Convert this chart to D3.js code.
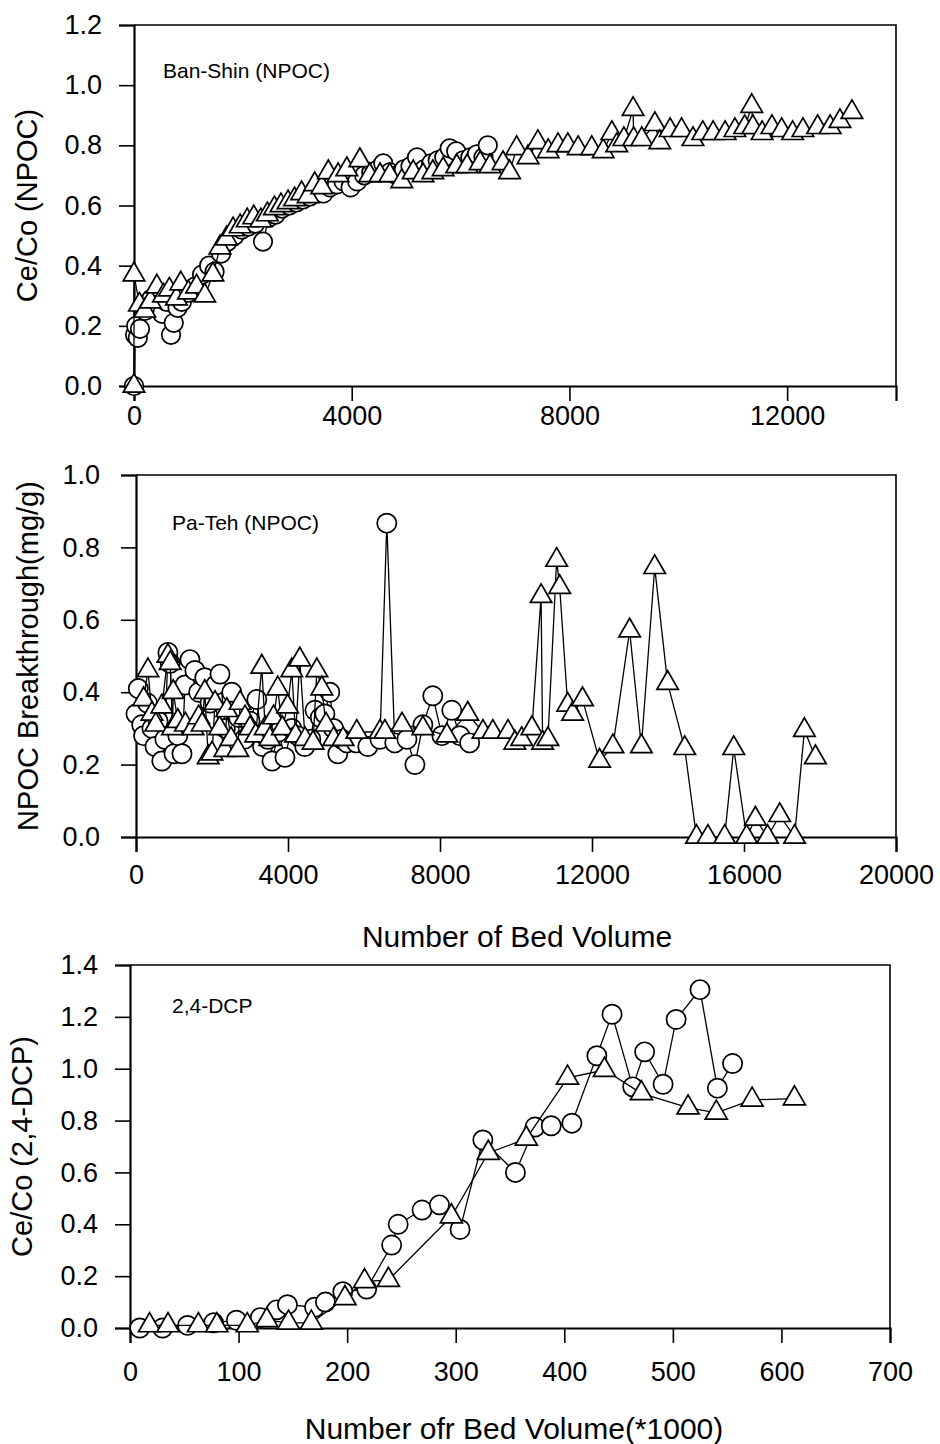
<!DOCTYPE html>
<html><head><meta charset="utf-8">
<script src="https://cdn.jsdelivr.net/npm/d3@7"></script>
<style>
body{margin:0;background:#fff}
svg{display:block}
text{font-family:"Liberation Sans",Arial,Helvetica,sans-serif;fill:#000}
</style>
</head><body>
<svg id="chart" width="940" height="1444"></svg>
<script>
// ---------------- DATA ----------------
// Panel 1: Ban-Shin (NPOC)
const banShinCircleX = [0,20,40,70,110,200,320,430,520,600,680,730,800,880,1000,1120,1250,1380,1480,1600,1720,1850,1980,2100,2230,2370,2480,2600,2720,2850,2980,3100,3230,3360,3480,3600,3730,3850,3980,4100,4230,4360,4480,4580,4700,4830,4960,5080,5200,5330,5460,5580,5700,5800,5920,6050,6180,6300,6420,6500];
const banShinCircleY = [0,0.17,0.20,0.16,0.19,0.25,0.29,0.27,0.24,0.28,0.17,0.21,0.26,0.28,0.31,0.33,0.37,0.40,0.38,0.44,0.48,0.50,0.52,0.53,0.54,0.48,0.56,0.57,0.59,0.60,0.61,0.62,0.63,0.65,0.64,0.66,0.67,0.68,0.66,0.68,0.70,0.71,0.72,0.74,0.71,0.70,0.72,0.73,0.76,0.72,0.74,0.75,0.76,0.79,0.78,0.75,0.76,0.77,0.76,0.80];
const banShinTriX = [0,0,100,200,300,420,540,650,780,860,1000,1150,1300,1450,1580,1700,1820,1950,2080,2200,2330,2450,2580,2700,2830,2950,3080,3200,3320,3450,3570,3750,3910,4150,4330,4520,4700,4920,5130,5310,5490,5680,5930,6120,6360,6540,6780,6900,7030,7240,7420,7610,7790,7970,8160,8410,8620,8780,8870,9000,9170,9180,9330,9570,9660,9850,10060,10270,10450,10640,10860,11040,11220,11350,11370,11540,11720,11900,12100,12290,12560,12790,12970,13190];
const banShinTriY = [0,0.37,0.27,0.25,0.28,0.33,0.30,0.32,0.29,0.34,0.31,0.33,0.30,0.37,0.46,0.49,0.52,0.53,0.55,0.56,0.55,0.57,0.59,0.60,0.61,0.62,0.64,0.63,0.67,0.66,0.71,0.70,0.72,0.75,0.70,0.70,0.70,0.68,0.71,0.70,0.71,0.72,0.73,0.73,0.74,0.73,0.74,0.71,0.79,0.76,0.81,0.78,0.80,0.80,0.79,0.79,0.78,0.84,0.80,0.82,0.92,0.82,0.82,0.87,0.81,0.85,0.85,0.82,0.84,0.84,0.84,0.85,0.86,0.93,0.86,0.84,0.86,0.85,0.84,0.85,0.86,0.86,0.88,0.91];
const banShinXTicks = [0,4000,8000,12000];
const banShinYTicks = [0,0.2,0.4,0.6,0.8,1.0,1.2];

// Panel 2: Pa-Teh (NPOC)
const paTehCircleX = [0,60,150,200,300,420,500,580,680,760,840,900,1000,1100,1210,1290,1420,1550,1650,1810,1950,2100,2210,2350,2520,2700,2850,3000,3180,3330,3470,3580,3750,3920,4100,4250,4440,4600,4710,4850,4970,5100,5200,5310,5420,5550,5800,6100,6420,6600,6810,7130,7340,7550,7810,8050,8310,8520,8780];
const paTehCircleY = [0.34,0.41,0.31,0.28,0.37,0.30,0.25,0.32,0.21,0.27,0.51,0.48,0.23,0.28,0.23,0.42,0.49,0.46,0.40,0.44,0.37,0.42,0.45,0.30,0.40,0.33,0.27,0.32,0.38,0.25,0.27,0.21,0.29,0.22,0.30,0.28,0.25,0.27,0.35,0.33,0.34,0.40,0.30,0.23,0.27,0.26,0.26,0.25,0.27,0.867,0.26,0.27,0.20,0.31,0.39,0.28,0.35,0.28,0.26];
const paTehTriX = [200,315,420,520,680,840,900,960,980,1100,1300,1500,1650,1740,1810,1900,2000,2080,2200,2340,2390,2500,2680,2740,2870,3000,3150,3310,3400,3520,3620,3730,3850,3990,4100,4200,4310,4450,4660,4760,4890,5000,5200,5450,5810,6420,6550,7000,7550,8180,8730,9130,9390,9790,9970,10150,10420,10660,10700,10840,11070,11150,11360,11490,11750,12200,12550,12990,13300,13650,13990,14440,14750,15050,15490,15730,16070,16300,16620,16940,17330,17590,17880];
const paTehTriY = [0.38,0.46,0.34,0.31,0.36,0.50,0.48,0.30,0.40,0.32,0.31,0.30,0.33,0.31,0.40,0.22,0.23,0.37,0.30,0.24,0.35,0.27,0.24,0.37,0.33,0.30,0.28,0.47,0.30,0.27,0.33,0.41,0.30,0.36,0.46,0.28,0.49,0.27,0.26,0.46,0.41,0.31,0.27,0.27,0.29,0.29,0.29,0.31,0.30,0.28,0.34,0.29,0.29,0.29,0.26,0.27,0.30,0.665,0.26,0.27,0.765,0.69,0.365,0.34,0.38,0.21,0.25,0.57,0.25,0.745,0.425,0.245,0,0,0,0.245,0,0.05,0,0.06,0,0.295,0.22];
const paTehXTicks = [0,4000,8000,12000,16000,20000];
const paTehYTicks = [0,0.2,0.4,0.6,0.8,1.0];

// Panel 3: 2,4-DCP
const dcpCircleX = [9,30,53,77,98,120,135,145,170,180,196,218,241,247,269,285,304,325,355,373,388,407,430,444,463,474,491,503,525,541,555];
const dcpCircleY = [0,0,0.01,0.02,0.03,0.04,0.07,0.09,0.08,0.10,0.14,0.15,0.32,0.40,0.455,0.475,0.38,0.725,0.60,0.775,0.78,0.79,1.05,1.21,0.93,1.065,0.94,1.19,1.305,0.925,1.02];
const dcpTriX = [18,35,63,80,108,126,146,167,198,216,238,296,330,365,403,437,471,514,540,573,612];
const dcpTriY = [0.01,0.01,0.01,0.01,0.01,0.03,0.02,0.02,0.115,0.18,0.185,0.43,0.675,0.73,0.965,0.995,0.905,0.85,0.83,0.88,0.885];
const dcpXTicks = [0,100,200,300,400,500,600,700];
const dcpYTicks = [0,0.2,0.4,0.6,0.8,1.0,1.2,1.4];

// ---------------- DRAW ----------------
const svg = d3.select("#chart");
const zip = (xs, ys) => xs.map((v, i) => [v, ys[i]]);

function drawPanel(cfg) {
  const g = svg.append("g");
  const x = d3.scaleLinear().domain(cfg.xDomain).range([cfg.left, cfg.right]);
  const y = d3.scaleLinear().domain(cfg.yDomain).range([cfg.bottom, cfg.top]);

  g.append("path")
    .attr("d", `M${cfg.left},${cfg.top}H${cfg.right}V${cfg.bottom}`)
    .attr("fill", "none").attr("stroke", "#000").attr("stroke-width", 1.6);

  const xa = g.append("g").attr("transform", `translate(0,${cfg.bottom})`)
    .call(d3.axisBottom(x).tickValues(cfg.xTicks).tickSize(15).tickPadding(cfg.xPad).tickFormat(d3.format("d")));
  const ya = g.append("g").attr("transform", `translate(${cfg.left},0)`)
    .call(d3.axisLeft(y).tickValues(cfg.yTicks).tickSize(15).tickPadding(cfg.yPad).tickFormat(d3.format(".1f")));
  [xa, ya].forEach(a => {
    a.select(".domain").attr("stroke-width", 2.2).attr("stroke", "#000");
    a.selectAll(".tick line").attr("stroke-width", 1.6).attr("stroke", "#000");
    a.selectAll(".tick text").attr("font-size", 27).attr("fill", "#000")
      .style("font-family", '"Liberation Sans",Arial,sans-serif');
  });

  const line = d3.line().x(d => x(d[0])).y(d => y(d[1]));
  cfg.series.forEach(s => {
    const pts = zip(s.x, s.y);
    g.append("path").datum(pts).attr("d", line)
      .attr("fill", "none").attr("stroke", "#000").attr("stroke-width", 1.3);
    const sym = d3.symbol().type(s.shape === "circle" ? d3.symbolCircle : d3.symbolTriangle)
      .size(s.shape === "circle" ? cfg.circleSize : cfg.triSize);
    g.selectAll(null).data(pts).enter().append("path")
      .attr("d", sym)
      .attr("transform", d => `translate(${x(d[0])},${y(d[1])})`)
      .attr("fill", "#fff").attr("stroke", "#000").attr("stroke-width", 1.7);
  });

  g.append("text").attr("x", cfg.noteX).attr("y", cfg.noteY)
    .attr("font-size", 21).text(cfg.note);

  g.append("text")
    .attr("transform", `translate(${cfg.yTitleX},${(cfg.top + cfg.bottom) / 2}) rotate(-90)`)
    .attr("text-anchor", "middle").attr("font-size", 29).text(cfg.yTitle);

  if (cfg.xTitle) {
    g.append("text").attr("x", cfg.xTitleX).attr("y", cfg.xTitleY)
      .attr("text-anchor", "middle").attr("font-size", 30).text(cfg.xTitle);
  }
}

drawPanel({
  left: 134, right: 896, top: 25, bottom: 386,
  xDomain: [0, 14000], yDomain: [0, 1.2],
  xTicks: banShinXTicks, yTicks: banShinYTicks, xPad: 5, yPad: 17,
  circleSize: 270, triSize: 200,
  series: [
    {shape: "circle", x: banShinCircleX, y: banShinCircleY},
    {shape: "triangle", x: banShinTriX, y: banShinTriY}
  ],
  note: "Ban-Shin (NPOC)", noteX: 163, noteY: 78,
  yTitle: "Ce/Co (NPOC)", yTitleX: 37
});

drawPanel({
  left: 136, right: 896, top: 475, bottom: 837,
  xDomain: [0, 20000], yDomain: [0, 1.0],
  xTicks: paTehXTicks, yTicks: paTehYTicks, xPad: 13, yPad: 21,
  circleSize: 290, triSize: 200,
  series: [
    {shape: "circle", x: paTehCircleX, y: paTehCircleY},
    {shape: "triangle", x: paTehTriX, y: paTehTriY}
  ],
  note: "Pa-Teh (NPOC)", noteX: 172, noteY: 530,
  yTitle: "NPOC Breakthrough(mg/g)", yTitleX: 38,
  xTitle: "Number of Bed Volume", xTitleX: 517, xTitleY: 947
});

drawPanel({
  left: 130, right: 890, top: 965, bottom: 1328,
  xDomain: [0, 700], yDomain: [0, 1.4],
  xTicks: dcpXTicks, yTicks: dcpYTicks, xPad: 19, yPad: 17,
  circleSize: 290, triSize: 210,
  series: [
    {shape: "circle", x: dcpCircleX, y: dcpCircleY},
    {shape: "triangle", x: dcpTriX, y: dcpTriY}
  ],
  note: "2,4-DCP", noteX: 172, noteY: 1013,
  yTitle: "Ce/Co (2,4-DCP)", yTitleX: 32,
  xTitle: "Number ofr Bed Volume(*1000)", xTitleX: 514, xTitleY: 1439
});
</script>
</body></html>
